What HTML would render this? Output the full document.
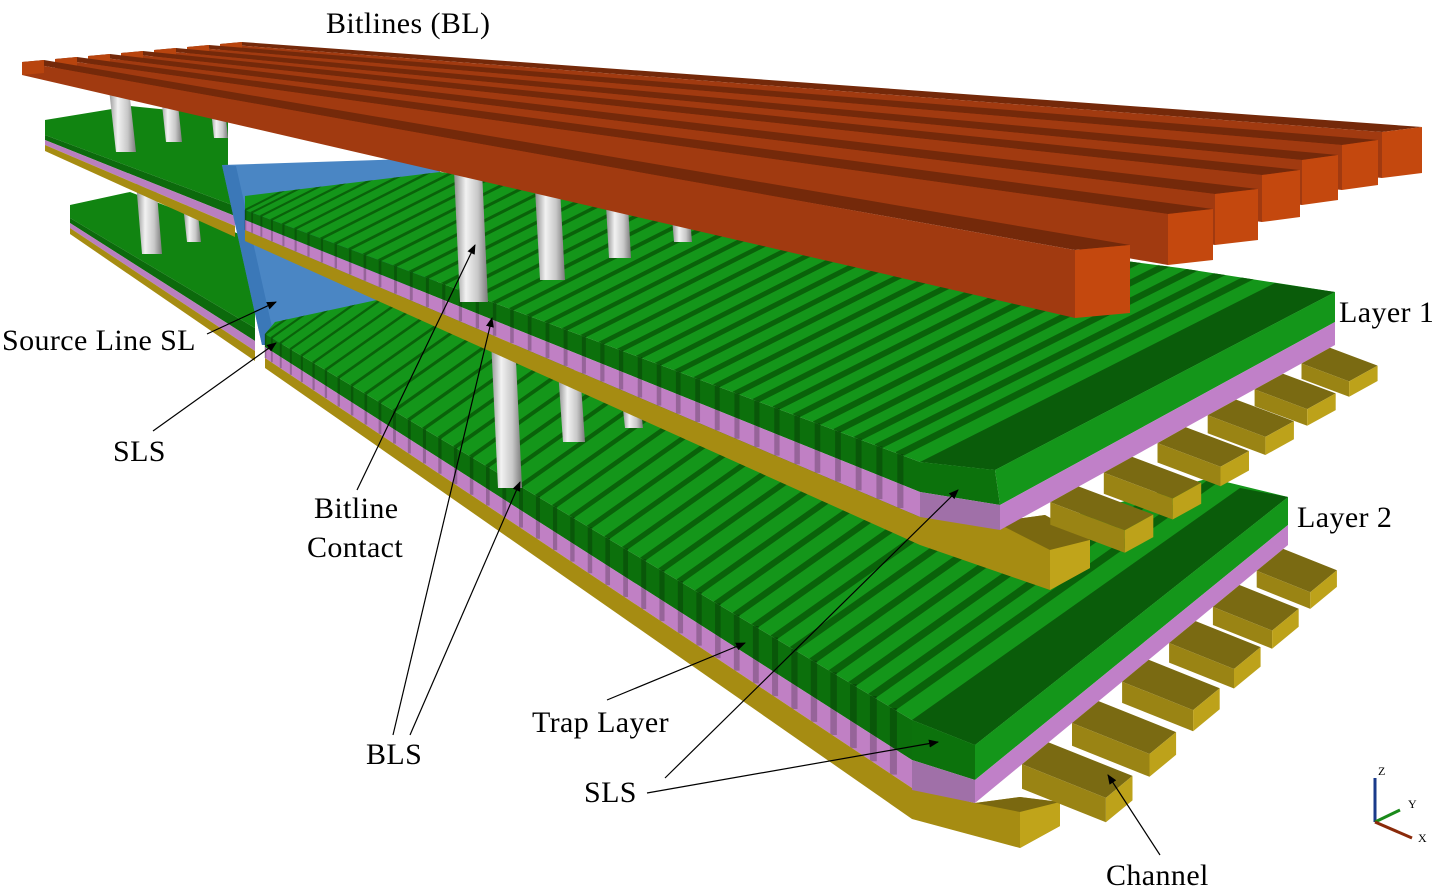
<!DOCTYPE html>
<html><head><meta charset="utf-8">
<style>
html,body{margin:0;padding:0;background:#fff;}
svg{display:block;}
text{font-family:"Liberation Serif",serif;fill:#000;}
</style></head>
<body>
<svg id="s" width="1432" height="896" viewBox="0 0 1432 896" xmlns="http://www.w3.org/2000/svg">
<defs>
<marker id="ah" markerWidth="10" markerHeight="8" refX="9" refY="4" orient="auto" markerUnits="userSpaceOnUse">
<path d="M0,0 L10,4 L0,8 z" fill="#000"/>
</marker>
<linearGradient id="pg" x1="0" x2="1" y1="0" y2="0">
<stop offset="0" stop-color="#8c8c8c"/><stop offset="0.35" stop-color="#f2f2f2"/><stop offset="0.7" stop-color="#c8c8c8"/><stop offset="1" stop-color="#7a7a7a"/>
</linearGradient>
<clipPath id="c1"><polygon points="245,196 440,172 1180,268 1335,292 995,470 920,462 245,210"/></clipPath>
<clipPath id="c2"><polygon points="265,334 275,322 400,295 1000,535 1210,478 1288,497 975,745 912,720"/></clipPath>
</defs>
<rect width="1432" height="896" fill="#fff"/>

<g id="l2left">
<polygon points="70,205 130,192 255,240 255,328 70,218" fill="#118411"/>
<polygon points="70,218 255,328 255,341 70,223" fill="#0c6a0c"/>
<polygon points="70,223 255,341 255,351 70,228" fill="#b97fbf"/>
<polygon points="70,228 255,351 255,361 70,234" fill="#a68c12"/>
</g>
<polygon points="136,182 156,182 162,254 142,254" fill="url(#pg)"/>
<polygon points="183,205 197,205 201,242 187,242" fill="url(#pg)"/>

<g id="l1left">
<polygon points="45,120 130,106 228,116 228,168 235,206 45,135" fill="#118411"/>
<polygon points="45,135 235,206 235,216 45,140" fill="#0c6a0c"/>
<polygon points="45,140 235,216 235,226 45,145" fill="#b97fbf"/>
<polygon points="45,145 235,226 235,237 45,151" fill="#a68c12"/>
</g>
<polygon points="108,80 128,80 136,152 116,152" fill="url(#pg)"/>
<polygon points="160,86 176,86 182,142 166,142" fill="url(#pg)"/>
<polygon points="210,100 224,100 228,138 214,138" fill="url(#pg)"/>

<polygon points="222,165 440,158 440,280 300,345 262,345" fill="#4a86c4"/>
<polygon points="222,165 236,166 276,345 262,345" fill="#3b78b8"/>

<g id="l2right">
<polygon points="265,334 275,322 400,295 1000,535 1210,478 1288,497 975,745 912,720" fill="#14961a"/>
<g id="w2" clip-path="url(#c2)"></g>
<polygon points="265,334 912,720 912,760 265,347" fill="#0c700c"/>
<polygon points="265,347 912,760 912,788 265,358" fill="#c080c4"/>
<g id="t2"></g>
<polygon points="265,358 912,788 975,803 1020,797 1060,802 1060,826 1020,848 912,819 265,368" fill="#a68c12"/>
<polygon points="975,803 1020,797 1060,802 1020,812" fill="#7a6810"/>
<polygon points="1020,812 1060,802 1060,826 1020,848" fill="#c0a41a"/>
<polygon points="912,720 1240,488 1288,497 975,745" fill="#0a5c0a"/>
<polygon points="975,745 1288,497 1288,525 975,780" fill="#14961a"/>
<polygon points="912,720 975,745 975,780 912,760" fill="#0c720c"/>
<polygon points="912,760 975,780 975,803 912,790" fill="#a070a8"/>
<polygon points="975,780 1288,525 1288,545 975,803" fill="#c080c8"/>
<g id="g2"></g>
</g>

<polygon points="490,318 514,318 522,488 498,488" fill="url(#pg)"/>
<polygon points="558,370 580,370 585,442 563,442" fill="url(#pg)"/>
<polygon points="622,400 640,400 643,428 625,428" fill="url(#pg)"/>

<g id="l1right">
<polygon points="245,196 440,172 1180,268 1335,292 995,470 920,462 245,210" fill="#14961a"/>
<g id="w1" clip-path="url(#c1)"></g>
<polygon points="245,210 920,462 920,492 245,220" fill="#0c700c"/>
<polygon points="245,220 920,492 920,517 245,230" fill="#c080c4"/>
<g id="t1"></g>
<polygon points="245,230 920,517 995,522 1045,515 1090,540 1090,568 1050,590 920,545 245,241" fill="#a68c12"/>
<polygon points="995,522 1045,515 1090,540 1050,550" fill="#7a6810"/>
<polygon points="1050,550 1090,540 1090,568 1050,590" fill="#c0a41a"/>
<polygon points="920,462 1275,283 1335,292 995,470" fill="#0a5c0a"/>
<polygon points="995,470 1335,292 1335,322 1000,505" fill="#14961a"/>
<polygon points="920,462 995,470 1000,505 920,492" fill="#0c720c"/>
<polygon points="920,492 1000,505 1000,530 920,517" fill="#a070a8"/>
<polygon points="1000,505 1335,322 1335,345 1000,530" fill="#c080c8"/>
<g id="g1"></g>
</g>

<polygon points="454,170 482,170 488,302 460,302" fill="url(#pg)"/>
<polygon points="535,188 560,188 565,280 540,280" fill="url(#pg)"/>
<polygon points="606,205 628,205 631,258 609,258" fill="url(#pg)"/>
<polygon points="672,218 690,218 692,242 674,242" fill="url(#pg)"/>

<g id="bl"></g>

<g font-size="30" letter-spacing="0.4">
<text x="326" y="33">Bitlines (BL)</text>
<text x="1339" y="322">Layer 1</text>
<text x="1297" y="527">Layer 2</text>
<text x="2" y="350">Source Line SL</text>
<text x="113" y="461">SLS</text>
<text x="314" y="518">Bitline</text>
<text x="307" y="557">Contact</text>
<text x="532" y="732">Trap Layer</text>
<text x="366" y="764">BLS</text>
<text x="584" y="802">SLS</text>
<text x="1106" y="885">Channel</text>
</g>
<g stroke="#000" stroke-width="1.2" fill="none" marker-end="url(#ah)">
<line x1="207" y1="334" x2="276" y2="302"/>
<line x1="153" y1="431" x2="276" y2="343"/>
<line x1="357" y1="490" x2="475" y2="245"/>
<line x1="393" y1="735" x2="492" y2="318"/>
<line x1="410" y1="735" x2="520" y2="482"/>
<line x1="607" y1="700" x2="745" y2="643"/>
<line x1="665" y1="778" x2="958" y2="490"/>
<line x1="647" y1="793" x2="938" y2="742"/>
<line x1="1160" y1="855" x2="1108" y2="775"/>
</g>
<line x1="1375" y1="822" x2="1375" y2="778" stroke="#1a3a8a" stroke-width="3"/>
<line x1="1375" y1="822" x2="1400" y2="810" stroke="#1a8a1a" stroke-width="3"/>
<line x1="1375" y1="822" x2="1412" y2="838" stroke="#8a2a0a" stroke-width="3"/>
<g font-size="12" font-family="Liberation Sans, sans-serif">
<text x="1378" y="775">Z</text><text x="1408" y="808">Y</text><text x="1418" y="842">X</text>
</g>
</svg>
<script>
(function(){
var NS="http://www.w3.org/2000/svg";
function P(g,pts,fill){var e=document.createElementNS(NS,"polygon");e.setAttribute("points",pts.map(function(p){return p[0].toFixed(1)+","+p[1].toFixed(1)}).join(" "));e.setAttribute("fill",fill);g.appendChild(e);}
function L(g,a,b,w,c){var e=document.createElementNS(NS,"line");e.setAttribute("x1",a[0]);e.setAttribute("y1",a[1]);e.setAttribute("x2",b[0]);e.setAttribute("y2",b[1]);e.setAttribute("stroke",c);e.setAttribute("stroke-width",w);g.appendChild(e);}
function lerp(a,b,t){return [a[0]+(b[0]-a[0])*t,a[1]+(b[1]-a[1])*t];}
function words(gid,tid,A,B,N,wa,wb,bandBot,d){
 var g=document.getElementById(gid),t=document.getElementById(tid);
 for(var k=0;k<N;k++){
  var s=Math.pow(k/N,1.25);var p=lerp(A,B,s);var w=wa+(wb-wa)*s;
  L(g,[p[0]-d[0]*2,p[1]-d[1]*2],[p[0]+d[0]*1400,p[1]+d[1]*1400],w,"#0a620a");
  var hb=bandBot[0]+(bandBot[1]-bandBot[0])*s;
  L(t,[p[0]+w*0.2,p[1]],[p[0]+w*0.2,p[1]+hb],w*0.9,"rgba(0,0,0,0.22)");
 }
}
words("w1","t1",[245,210],[920,462],40,2,7,[20,55],[0.893,-0.450]);
words("w2","t2",[265,334],[912,720],40,2,8,[24,68],[0.817,-0.577]);
function blocks(gid,A,B,ts,v0,h0){
 var g=document.getElementById(gid);
 ts.forEach(function(t){
  var b1=lerp(A,B,t),b2=lerp(A,B,t+0.085);var f=1-0.45*t;var v=[v0[0]*f,v0[1]*f];var h=h0*(1-0.4*t);
  var e1=[b1[0]+v[0],b1[1]+v[1]],e2=[b2[0]+v[0],b2[1]+v[1]];
  P(g,[b1,b2,e2,e1],"#7a6a12");
  P(g,[b1,e1,[e1[0],e1[1]+h],[b1[0],b1[1]+h]],"#9a8414");
  P(g,[e1,e2,[e2[0],e2[1]+h],[e1[0],e1[1]+h]],"#bda21a");
 });
}
blocks("g1",[1000,530],[1335,345],[0.9,0.76,0.62,0.47,0.31,0.15],[80,30],24);
blocks("g2",[975,803],[1288,545],[0.9,0.76,0.62,0.47,0.31,0.15],[90,36],26);
var bl=document.getElementById("bl");
var R=[[1075,250,55,68],[1168,214,45,51],[1215,194,43,51],[1262,175,38,47],[1302,160,36,45],[1342,145,36,45],[1382,132,40,46]];
for(var i=6;i>=0;i--){
 var Lf=[22+33*i,62-3*i],Lb=[Lf[0]+22,Lf[1]-2];
 var r=R[i];var Rf=[r[0],r[1]],Rb=[r[0]+r[2],r[1]-5];var h=r[3];
 P(bl,[Lf,Lb,Rb,Rf],"#74290a");
 P(bl,[Lf,Rf,[Rf[0],Rf[1]+h],[Lf[0],Lf[1]+13]],"#a13a10");
 P(bl,[Rf,Rb,[Rb[0],Rb[1]+h],[Rf[0],Rf[1]+h]],"#c4480e");
 P(bl,[Lf,Lb,[Lb[0],Lb[1]+13],[Lf[0],Lf[1]+13]],"#b8440e");
}
})();
</script>
</body></html>
